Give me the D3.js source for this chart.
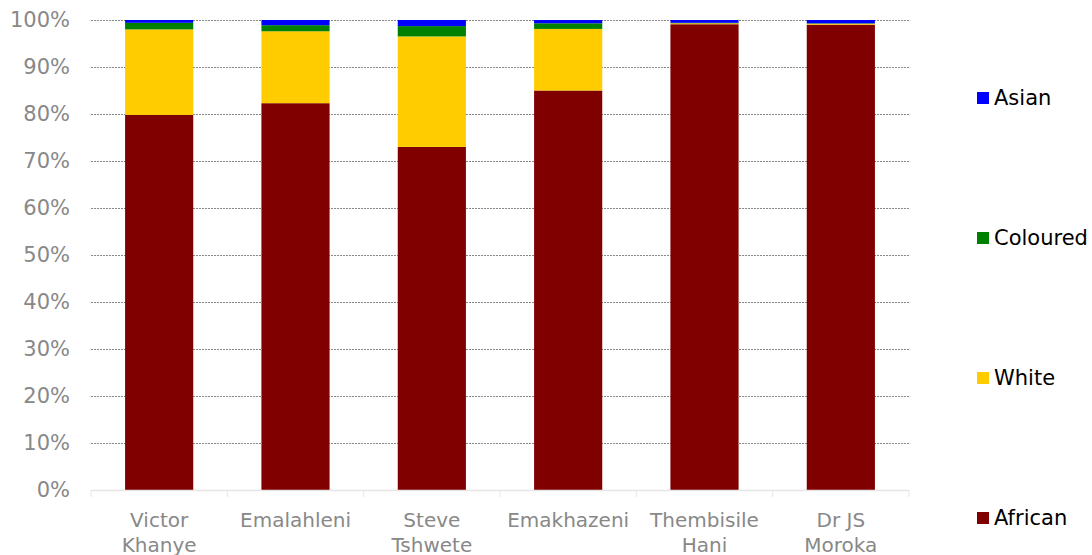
<!DOCTYPE html>
<html>
<head>
<meta charset="utf-8">
<script src="https://cdn.jsdelivr.net/npm/d3@7"></script>
<style>
  body { margin: 0; background: #fff; }
  text { font-family: "DejaVu Sans", Verdana, sans-serif; }
</style>
</head>
<body>
<svg width="1092" height="555"></svg>
<script>
// municipalities
var categories = [["Victor", "Khanye"], ["Emalahleni"], ["Steve", "Tshwete"], ["Emakhazeni"], ["Thembisile", "Hani"], ["Dr JS", "Moroka"]];
var seriesNames = ["African", "White", "Coloured", "Asian"];
var colors = ["#800000", "#ffcc00", "#008000", "#0000ff"];

// percent of population
var african  = [79.8, 82.3, 73.0, 85.0, 99.1, 99.0];
var white    = [18.2, 15.3, 23.5, 13.1, 0.2, 0.2];
var coloured = [1.4, 1.3, 2.2, 1.2, 0.1, 0.1];
var asian    = [0.6, 1.1, 1.3, 0.7, 0.6, 0.7];
var yTicks = [0, 10, 20, 30, 40, 50, 60, 70, 80, 90, 100];

var svg = d3.select("svg"),
    margin = {top: 20, right: 183, bottom: 65, left: 91},
    width = 1092 - margin.left - margin.right,
    height = 555 - margin.top - margin.bottom,
    g = svg.append("g").attr("transform", "translate(" + margin.left + "," + margin.top + ")");

var rows = categories.map(function(c, i) {
  return {key: i, African: african[i], White: white[i], Coloured: coloured[i], Asian: asian[i]};
});
var stacked = d3.stack().keys(seriesNames)(rows);

var x = d3.scaleBand().domain(d3.range(categories.length)).range([0, width]).paddingInner(0.5).paddingOuter(0.25),
    y = d3.scaleLinear().domain([0, 100]).range([height, 0]),
    z = d3.scaleOrdinal().domain(seriesNames).range(colors);

// gridlines
g.selectAll(".grid")
  .data(yTicks.filter(function(d) { return d > 0; }))
  .enter().append("line")
    .attr("x1", 0).attr("x2", width)
    .attr("y1", function(d) { return y(d) + 0.5; })
    .attr("y2", function(d) { return y(d) + 0.5; })
    .attr("stroke", "#888")
    .attr("stroke-width", 1)
    .attr("stroke-dasharray", "2,1");

// y labels
g.selectAll(".ylab")
  .data(yTicks)
  .enter().append("text")
    .attr("x", -21)
    .attr("y", function(d) { return y(d); })
    .attr("dy", "0.35em")
    .attr("text-anchor", "end")
    .attr("fill", "#888")
    .style("font-size", "21px")
    .text(function(d) { return d + "%"; });

// bars
var layer = g.selectAll(".layer")
  .data(stacked)
  .enter().append("g")
    .attr("fill", function(d) { return z(d.key); });

layer.selectAll("rect")
  .data(function(d) { return d; })
  .enter().append("rect")
    .attr("x", function(d) { return x(d.data.key); })
    .attr("y", function(d) { return y(d[1]); })
    .attr("height", function(d) { return y(d[0]) - y(d[1]); })
    .attr("width", x.bandwidth());

// x axis line and ticks
var step = width / categories.length;
g.append("line")
  .attr("x1", 0).attr("x2", width)
  .attr("y1", height + 0.5).attr("y2", height + 0.5)
  .attr("stroke", "#e6e6e6").attr("stroke-width", 1.5);

g.selectAll(".xtick")
  .data(d3.range(categories.length + 1))
  .enter().append("line")
    .attr("x1", function(d) { return d * step; })
    .attr("x2", function(d) { return d * step; })
    .attr("y1", height).attr("y2", height + 7)
    .attr("stroke", "#e6e6e6").attr("stroke-width", 1);

// x labels
var xl = g.selectAll(".xlab")
  .data(categories)
  .enter().append("text")
    .attr("text-anchor", "middle")
    .attr("fill", "#888")
    .style("font-size", "20px")
    .attr("transform", function(d, i) { return "translate(" + (x(i) + x.bandwidth() / 2) + "," + (height + 37) + ")"; });

xl.selectAll("tspan")
  .data(function(d) { return d; })
  .enter().append("tspan")
    .attr("x", 0)
    .attr("dy", function(d, i) { return i ? 25 : 0; })
    .text(function(d) { return d; });

// legend
var legend = svg.selectAll(".legend")
  .data(seriesNames.slice().reverse())
  .enter().append("g")
    .attr("transform", function(d, i) { return "translate(977," + (98 + i * 140) + ")"; });

legend.append("rect")
  .attr("x", 0).attr("y", -6)
  .attr("width", 12).attr("height", 12)
  .attr("fill", function(d) { return z(d); });

legend.append("text")
  .attr("x", 17)
  .attr("dy", "0.35em")
  .attr("fill", "#000")
  .style("font-size", "21px")
  .text(function(d) { return d; });
</script>
</body>
</html>
